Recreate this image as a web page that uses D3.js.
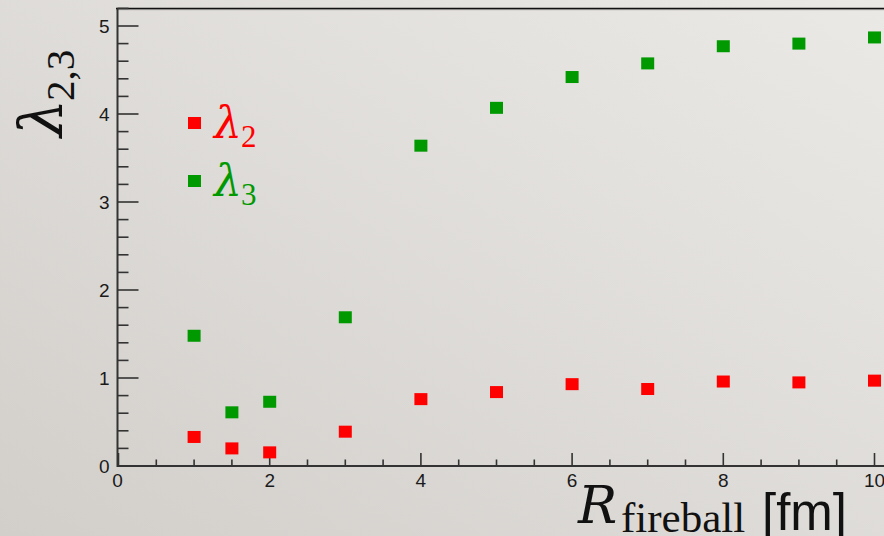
<!DOCTYPE html>
<html><head><meta charset="utf-8">
<script src="https://cdn.jsdelivr.net/npm/d3@7"></script>
<style>html,body{margin:0;padding:0;overflow:hidden;}svg{display:block;}</style>
</head><body>
<svg id="c" width="884" height="536"></svg>
<script>
// ---- data ----
const radius = [1, 1.5, 2, 3, 4, 5, 6, 7, 8, 9, 10];
const lambda2 = [0.33, 0.20, 0.155, 0.39, 0.76, 0.84, 0.93, 0.875, 0.96, 0.95, 0.97];
const lambda3 = [1.48, 0.61, 0.73, 1.69, 3.64, 4.07, 4.42, 4.575, 4.77, 4.80, 4.87];
const xTicks = [0, 2, 4, 6, 8, 10];
const yTicks = [0, 1, 2, 3, 4, 5];
const seriesNames = ["2", "3"];
const seriesColors = ["#ff0000", "#009900"];

const svg = d3.select("#c");
const W = 884, H = 536;

// background gradient
const defs = svg.append("defs");
const g = defs.append("linearGradient").attr("id","bg")
  .attr("x1","0%").attr("y1","100%").attr("x2","100%").attr("y2","0%");
g.append("stop").attr("offset","0%").attr("stop-color","#d2cfcb");
g.append("stop").attr("offset","100%").attr("stop-color","#ebe9e6");
svg.append("rect").attr("width",W).attr("height",H).attr("fill","url(#bg)");

const x = d3.scaleLinear().domain([0, 10]).range([118.5, 874.5]);
const y = d3.scaleLinear().domain([0, 5]).range([466, 26]);
const yTop = y(5.2);

// top frame line
svg.append("line").attr("x1",116).attr("x2",W).attr("y1",yTop+1.2).attr("y2",yTop+1.2)
  .attr("stroke","#b5b3b0").attr("stroke-width",1.2);
svg.append("line").attr("x1",116).attr("x2",W).attr("y1",yTop).attr("y2",yTop)
  .attr("stroke","#111").attr("stroke-width",1.5);

const axisColor = "#333";
// x axis
const xAx = svg.append("g");
xAx.append("line").attr("x1",x(0)-1).attr("x2",W).attr("y1",y(0)).attr("y2",y(0))
  .attr("stroke",axisColor).attr("stroke-width",2);
const xMinor = d3.range(0, 10.6, 0.5).filter(v => !xTicks.includes(v));
xAx.selectAll(".xmaj").data(xTicks).join("line")
  .attr("x1",d=>x(d)).attr("x2",d=>x(d)).attr("y1",y(0)).attr("y2",y(0)-13)
  .attr("stroke",axisColor).attr("stroke-width",1.6);
xAx.selectAll(".xmin").data(xMinor.filter(v=>x(v)<W)).join("line")
  .attr("x1",d=>x(d)).attr("x2",d=>x(d)).attr("y1",y(0)).attr("y2",y(0)-6.5)
  .attr("stroke",axisColor).attr("stroke-width",1.6);
xAx.selectAll("text").data(xTicks).join("text")
  .attr("x",d=>x(d)-(d===0?1:0)).attr("y",486.5).attr("text-anchor","middle")
  .attr("font-family","Liberation Sans, Arial, sans-serif").attr("font-size",19)
  .attr("fill","#1a1a1a").text(d=>d);

// y axis
const yAx = svg.append("g");
yAx.append("line").attr("x1",x(0)-1).attr("x2",x(0)-1).attr("y1",y(0)+1).attr("y2",yTop)
  .attr("stroke",axisColor).attr("stroke-width",2);
const yMinor = d3.range(0, 5.21, 0.2).map(v=>+v.toFixed(1)).filter(v => !yTicks.includes(v));
yAx.selectAll(".ymaj").data(yTicks).join("line")
  .attr("x1",x(0)-1).attr("x2",x(0)+20).attr("y1",d=>y(d)).attr("y2",d=>y(d))
  .attr("stroke",axisColor).attr("stroke-width",1.6);
yAx.selectAll(".ymin").data(yMinor).join("line")
  .attr("x1",x(0)-1).attr("x2",x(0)+10).attr("y1",d=>y(d)).attr("y2",d=>y(d))
  .attr("stroke",axisColor).attr("stroke-width",1.6);
yAx.selectAll("text").data(yTicks).join("text")
  .attr("x",109.5).attr("y",d=>y(d)+7).attr("text-anchor","end")
  .attr("font-family","Liberation Sans, Arial, sans-serif").attr("font-size",19)
  .attr("fill","#1a1a1a").text(d=>d);

// points
const sq = {w:13, h:12};
[lambda2, lambda3].forEach((vals, i) => {
  svg.append("g").selectAll("rect").data(radius.map((r,k)=>({r, v:vals[k]}))).join("rect")
    .attr("x", d=>x(d.r)-sq.w/2).attr("y", d=>y(d.v)-sq.h/2)
    .attr("width", sq.w).attr("height", sq.h)
    .attr("fill", seriesColors[i]);
});

// legend
const legY = [123, 181];
seriesNames.forEach((n, i) => {
  svg.append("rect").attr("x",188).attr("y",legY[i]-6).attr("width",13).attr("height",12)
    .attr("fill",seriesColors[i]);
  svg.append("text").attr("x",214).attr("y",legY[i]+15)
    .attr("font-family","DejaVu Serif, serif").attr("font-style","italic")
    .attr("font-size",44).attr("fill",seriesColors[i]).text("λ");
  svg.append("text").attr("x",241).attr("y",legY[i]+24)
    .attr("font-family","Liberation Serif, serif")
    .attr("font-size",31).attr("fill",seriesColors[i]).text(n);
});

// y label
svg.append("text").attr("transform","translate(62,137) rotate(-90)")
  .attr("font-family","DejaVu Serif, serif").attr("font-style","italic")
  .attr("font-size",60).attr("fill","#111").text("λ");
svg.append("text").attr("transform","translate(74,101) rotate(-90)")
  .attr("font-family","Liberation Serif, serif")
  .attr("font-size",41).attr("fill","#111").text("2,3");

// x label
svg.append("text").attr("x",578).attr("y",523).attr("fill","#111")
  .attr("font-family","DejaVu Serif, serif").attr("font-style","italic")
  .attr("font-size",52).text("R");
svg.append("text").attr("x",621).attr("y",532).attr("fill","#111")
  .attr("font-family","Liberation Serif, serif").attr("font-size",43).text("fireball");
svg.append("text").attr("x",762).attr("y",530).attr("fill","#111")
  .attr("font-family","Liberation Sans, Arial, sans-serif").attr("font-size",51).text("[fm]");
</script>
</body></html>
